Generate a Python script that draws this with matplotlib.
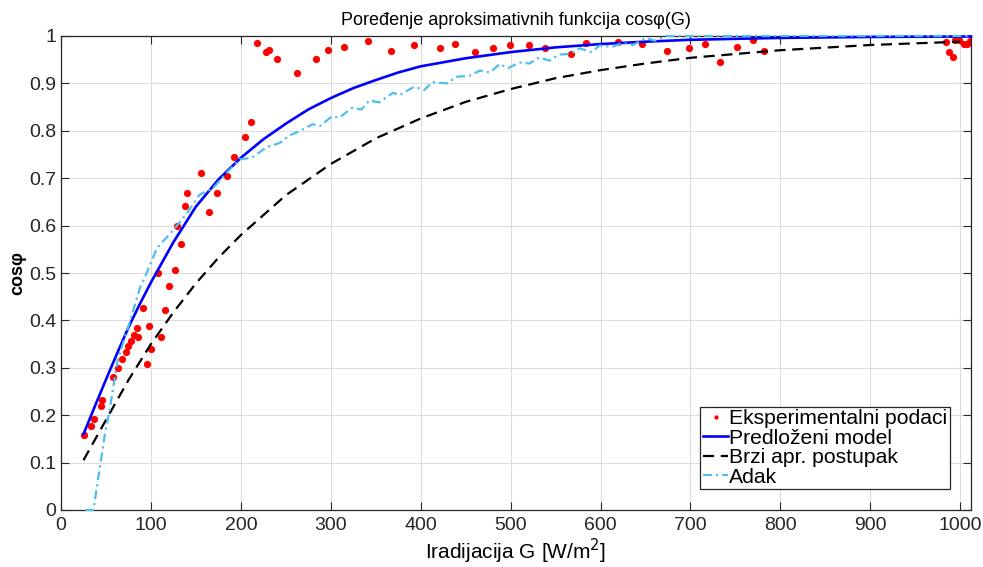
import numpy as np
import matplotlib
matplotlib.use("Agg")
import matplotlib.pyplot as plt

plt.rcParams['font.family'] = ['Liberation Sans', 'DejaVu Sans']

# ================= DATA =================
# measured points
G_exp = [25.5, 33, 36.7, 44, 46, 58, 63.7, 67.4, 71.9, 74.8, 77.4, 81, 86, 84.8,
         90.7, 96, 97.4, 100.4, 107.8, 111.5, 115.6, 120.4, 126.7, 133, 128.5,
         137.8, 140.4, 155.6, 164.4, 173, 184.8, 192, 204.4, 211, 218, 228.5,
         231.5, 240.4, 263, 284, 297, 314.8, 341.5, 366.7, 393, 421.9, 438.5,
         460.8, 480.4, 499.6, 521, 538.5, 567, 584, 619, 646, 674, 698, 716,
         733, 752, 770, 782, 984, 987, 992, 994.5, 999, 1004, 1008, 1011]
cos_exp = [0.158, 0.177, 0.192, 0.22, 0.232, 0.281, 0.30, 0.318, 0.333, 0.346,
           0.357, 0.369, 0.364, 0.384, 0.427, 0.309, 0.388, 0.339, 0.501, 0.364,
           0.422, 0.473, 0.506, 0.561, 0.599, 0.641, 0.669, 0.712, 0.628, 0.669,
           0.705, 0.745, 0.786, 0.819, 0.986, 0.966, 0.97, 0.951, 0.921, 0.951,
           0.97, 0.976, 0.99, 0.968, 0.98, 0.975, 0.984, 0.967, 0.975, 0.98,
           0.98, 0.975, 0.963, 0.986, 0.988, 0.983, 0.969, 0.975, 0.984, 0.946,
           0.977, 0.992, 0.968, 0.988, 0.967, 0.956, 0.992, 0.992, 0.983, 0.983,
           0.989]

# proposed model
G_model = [25, 37.5, 50, 62.5, 75, 87.5, 100, 125, 150, 175, 200, 225, 250,
           275, 300, 325, 350, 375, 400, 450, 500, 550, 600, 650, 700, 800,
           900, 1012]
cos_model = [0.16, 0.218, 0.275, 0.331, 0.385, 0.434, 0.48, 0.565, 0.64, 0.697,
             0.743, 0.782, 0.815, 0.845, 0.869, 0.89, 0.907, 0.923, 0.936,
             0.953, 0.966, 0.976, 0.983, 0.988, 0.992, 0.996, 0.998, 0.999]

# fast approximation
G_fast = [25, 50, 75, 100, 125, 150, 175, 200, 250, 300, 350, 400, 450, 500,
          550, 600, 650, 700, 800, 900, 1000]
cos_fast = [0.105, 0.19, 0.274, 0.35, 0.417, 0.478, 0.532, 0.58, 0.664, 0.73,
            0.784, 0.826, 0.861, 0.888, 0.911, 0.928, 0.942, 0.954, 0.970,
            0.981, 0.988]

# Adak
G_adak = [27, 36, 42, 49, 54, 63, 77, 88, 93, 106, 110, 120, 129, 140, 154,
          169, 184, 199, 212, 229, 243, 254, 266, 280, 288, 301, 310, 323, 334,
          343, 354, 369, 377, 393, 404, 413, 429, 440, 454, 466, 477, 488, 497,
          510, 521, 532, 543, 554, 566, 577, 590, 599, 613, 624, 636, 651, 660,
          673, 700, 800, 900, 1012]
cos_adak = [0, 0, 0.075, 0.162, 0.21, 0.316, 0.40, 0.47, 0.49, 0.549, 0.56,
            0.58, 0.60, 0.626, 0.665, 0.679, 0.711, 0.74, 0.743, 0.766, 0.774,
            0.79, 0.80, 0.814, 0.81, 0.83, 0.828, 0.848, 0.845, 0.864, 0.86,
            0.88, 0.876, 0.893, 0.886, 0.903, 0.90, 0.914, 0.916, 0.927, 0.923,
            0.941, 0.932, 0.944, 0.942, 0.955, 0.948, 0.961, 0.962, 0.974,
            0.966, 0.98, 0.977, 0.985, 0.981, 0.996, 0.99, 1.0, 1.0, 1.0, 1.0,
            1.0]

x_ticks = list(range(0, 1001, 100))
y_ticks = [0, 0.1, 0.2, 0.3, 0.4, 0.5, 0.6, 0.7, 0.8, 0.9, 1]
y_labels = ['0', '0.1', '0.2', '0.3', '0.4', '0.5', '0.6', '0.7', '0.8', '0.9', '1']
# =================================================================

fig = plt.figure(figsize=(9.83, 5.67), dpi=100)
ax = fig.add_axes([61 / 983, 1 - 510 / 567, 910 / 983, 474 / 567])

ax.plot(G_exp, cos_exp, 'o', color='#ff0000', markersize=5.2, markeredgewidth=0,
        label='Eksperimentalni podaci', zorder=2)
ax.plot(G_model, cos_model, '-', color='#0000ff', lw=1.9,
        label='Predloženi model', zorder=3, clip_on=False)
ax.plot(G_fast, cos_fast, '--', color='black', lw=1.6, dashes=(5, 3),
        label='Brzi apr. postupak', zorder=3)
ax.plot(G_adak, cos_adak, '-.', color='#4dbeee', lw=1.6, dashes=(4, 1.8, 1, 1.8),
        label='Adak', zorder=3.5, clip_on=False)

ax.set_xlim(0, 1012)
ax.set_ylim(0, 1)
ax.set_xticks(x_ticks)
ax.set_yticks(y_ticks)
ax.set_yticklabels(y_labels)
ax.grid(True, color='#dcdcdc', lw=0.8)
ax.set_axisbelow(True)

ax.tick_params(direction='in', length=6, width=0.8, colors='#262626',
               top=True, right=True, labelsize=14)
ax.tick_params(axis='x', pad=5)
ax.tick_params(axis='y', pad=3.5)
for s in ax.spines.values():
    s.set_color('#262626')
    s.set_linewidth(0.9)

ax.set_title('Poređenje aproksimativnih funkcija cosφ(G)', fontsize=13, pad=8)
ax.set_xlabel('Iradijacija G [W/m$^2$]', fontsize=15, labelpad=2)
ax.set_ylabel('cosφ', fontsize=13, fontweight='bold', labelpad=2)

leg = ax.legend(loc='lower right', bbox_to_anchor=(0.977, 0.044), fontsize=15.2,
                handlelength=1.2, handletextpad=0.05, borderpad=0.12,
                borderaxespad=0, labelspacing=0.02, fancybox=False,
                framealpha=1, edgecolor='#262626', markerscale=0.6)
leg.get_frame().set_linewidth(0.9)

fig.savefig('out.png', dpi=100)
